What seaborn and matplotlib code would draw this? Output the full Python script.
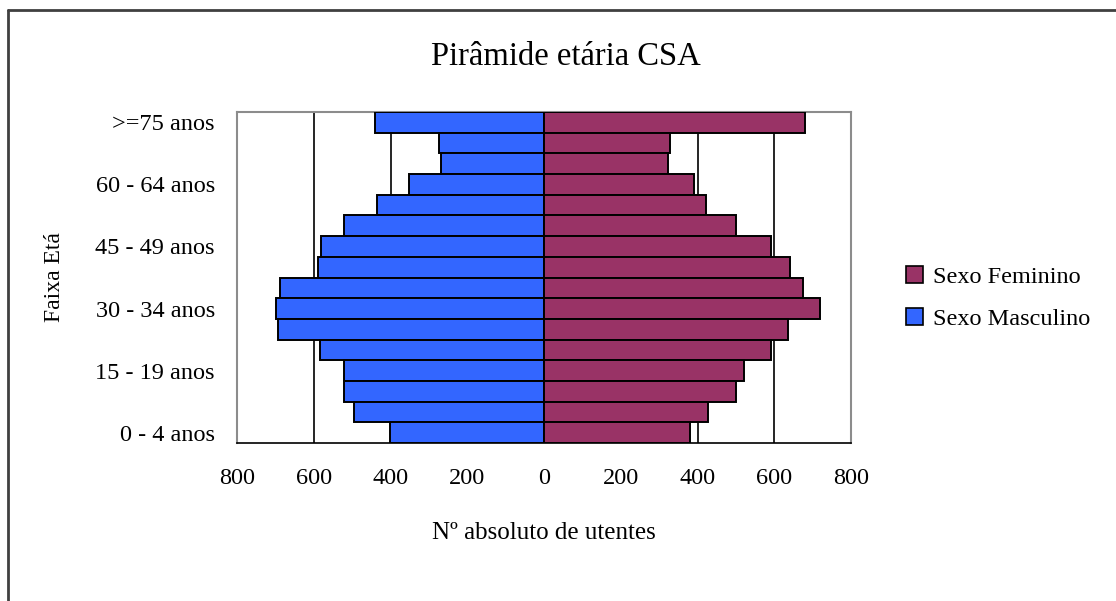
import matplotlib
matplotlib.use("Agg")
import matplotlib.pyplot as plt
import matplotlib.patches as mpatches
from matplotlib.lines import Line2D
import seaborn as sns
import pandas as pd

# ---- data ----
faixas = ["0 - 4 anos", "5 - 9 anos", "10 - 14 anos", "15 - 19 anos", "20 - 24 anos",
          "25 - 29 anos", "30 - 34 anos", "35 - 39 anos", "40 - 44 anos", "45 - 49 anos",
          "50 - 54 anos", "55 - 59 anos", "60 - 64 anos", "65 - 69 anos", "70 - 74 anos",
          ">=75 anos"]
masculino = [402, 496, 522, 522, 584, 694, 699, 689, 590, 581, 522, 434, 351, 268, 273, 440]
feminino = [380, 427, 500, 520, 592, 635, 718, 676, 640, 592, 500, 422, 390, 323, 328, 681]
xticks_vals = [-800, -600, -400, -200, 0, 200, 400, 600, 800]
shown_labels = ["0 - 4 anos", "15 - 19 anos", "30 - 34 anos", "45 - 49 anos",
                "60 - 64 anos", ">=75 anos"]

col_fem = "#993366"
col_masc = "#3366FF"

order = faixas[::-1]
df = pd.DataFrame({
    "faixa": faixas * 2,
    "valor": [-v for v in masculino] + feminino,
    "sexo": ["Sexo Masculino"] * len(faixas) + ["Sexo Feminino"] * len(faixas),
})

sns.set_style("white")
plt.rcParams["font.family"] = ["Liberation Serif", "DejaVu Serif"]
plt.rcParams["text.color"] = "black"
plt.rcParams["axes.labelcolor"] = "black"
plt.rcParams["xtick.color"] = "black"
plt.rcParams["ytick.color"] = "black"

fig = plt.figure(figsize=(11.16, 6.01), dpi=100)
ax = fig.add_axes([237 / 1116, 1 - 443 / 601, (851 - 237) / 1116, (443 - 112) / 601])

sns.barplot(data=df, x="valor", y="faixa", hue="sexo", order=order,
            hue_order=["Sexo Masculino", "Sexo Feminino"],
            palette={"Sexo Masculino": col_masc, "Sexo Feminino": col_fem},
            dodge=False, width=1.0, orient="h", edgecolor="black", linewidth=1.4,
            saturation=1, legend=False, ax=ax, zorder=3)

ax.set_xlim(-800, 800)
ax.set_ylim(15.5, -0.5)
for g in [-600, -400, -200, 200, 400, 600]:
    ax.axvline(g, color="black", lw=1.2, zorder=1)

ax.set_xticks(xticks_vals)
ax.set_xticklabels([str(abs(v)) for v in xticks_vals], fontsize=17.5)
ax.tick_params(axis="x", direction="out", length=6, width=1.2, color="black", pad=12)

pos = [order.index(l) for l in shown_labels]
ax.set_yticks(pos)
ax.set_yticklabels(shown_labels, fontsize=17.5)
ax.tick_params(axis="y", length=0, pad=16)

ax.set_xlabel("Nº absoluto de utentes", fontsize=18, labelpad=24)
ax.set_ylabel("Faixa Etá", fontsize=17, labelpad=22)

for s in ["top", "right", "left"]:
    ax.spines[s].set_color("#8c8c8c")
    ax.spines[s].set_linewidth(1.5)
ax.spines["bottom"].set_color("black")
ax.spines["bottom"].set_linewidth(1.2)

fig.text(566 / 1116, 1 - 57 / 601, "Pirâmide etária CSA", ha="center", va="center",
         fontsize=23.5)

handles = [mpatches.Patch(facecolor=col_fem, edgecolor="black", lw=1.2, label="Sexo Feminino"),
           mpatches.Patch(facecolor=col_masc, edgecolor="black", lw=1.2, label="Sexo Masculino")]
fig.legend(handles=handles, loc="center left", bbox_to_anchor=(884 / 1116, 1 - 298 / 601),
           frameon=False, fontsize=17.5, handlelength=0.7, handleheight=0.7,
           handletextpad=0.4, labelspacing=0.8)

# outer chart frame (left and top only visible)
fig.add_artist(Line2D([7.5 / 1116, 7.5 / 1116], [0, 1 - 9.5 / 601], transform=fig.transFigure,
                      color="#404040", lw=2))
fig.add_artist(Line2D([7.5 / 1116, 1], [1 - 9.5 / 601, 1 - 9.5 / 601], transform=fig.transFigure,
                      color="#404040", lw=2))

fig.savefig("out.png", dpi=100, facecolor="white")
